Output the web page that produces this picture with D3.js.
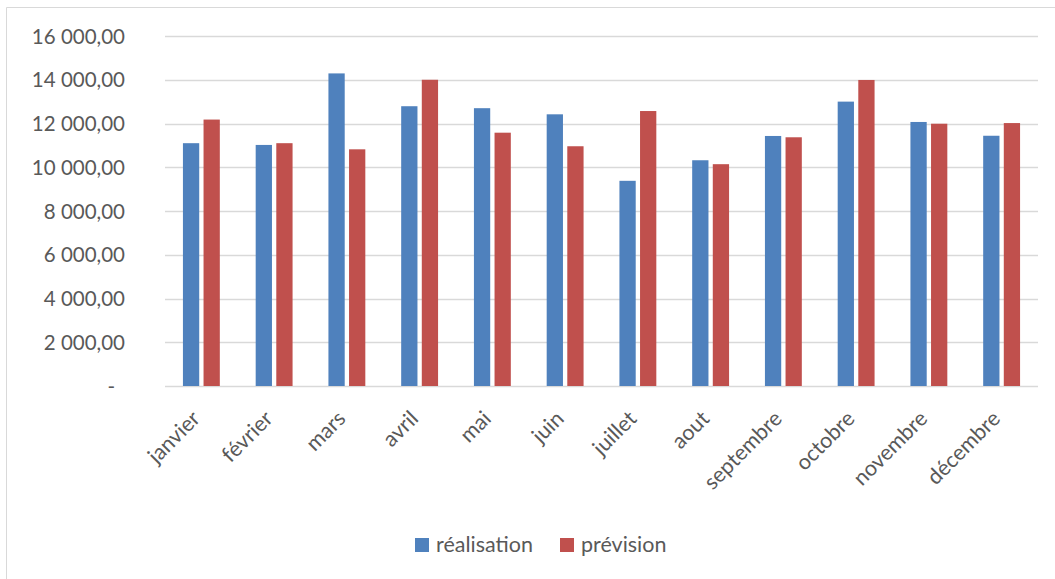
<!DOCTYPE html>
<html>
<head>
<meta charset="utf-8">
<script src="https://cdn.jsdelivr.net/npm/d3@7"></script>
<style>
  html, body { margin: 0; padding: 0; background: #fff; }
  svg { display: block; }
  text { font-family: Lato, "Open Sans", sans-serif; fill: #595959; }
</style>
</head>
<body>
<svg id="chart" width="1055" height="579"></svg>
<script>
const months = ["janvier","février","mars","avril","mai","juin","juillet","aout","septembre","octobre","novembre","décembre"];
const seriesNames = ["réalisation","prévision"];
const realisation = [11100, 11020, 14290, 12790, 12700, 12420, 9380, 10320, 11430, 13000, 12070, 11440];
const prevision   = [12180, 11100, 10820, 14000, 11580, 10960, 12570, 10140, 11370, 13990, 11990, 12020];
const yTicks = [0, 2000, 4000, 6000, 8000, 10000, 12000, 14000, 16000];
const colors = ["#4F81BD", "#C0504D"];

const svg = d3.select("#chart");
const W = 1055, H = 579;
const plot = { left: 165, right: 1038, top: 36, bottom: 386 };

svg.append("path")
  .attr("d", `M6.5,${H} L6.5,7.5 L${W},7.5`)
  .attr("fill", "none").attr("stroke", "#d9d9d9").attr("stroke-width", 1);

const y = d3.scaleLinear().domain([0, 16000]).range([plot.bottom, plot.top]);
const x0 = d3.scaleBand().domain(months).range([plot.left, plot.right]).paddingInner(0).paddingOuter(0);
const groupW = x0.bandwidth() * 0.507;
const x1 = d3.scaleBand().domain(seriesNames).range([0, groupW]).paddingInner(0.21).paddingOuter(0);

const fmt = v => {
  if (v === 0) return "-";
  const s = d3.format(",.2f")(v);
  return s.replace(/,/g, " ").replace(".", ",");
};

svg.append("g").selectAll("line").data(yTicks).join("line")
  .attr("x1", plot.left).attr("x2", plot.right)
  .attr("y1", d => Math.round(y(d)) + 0.5).attr("y2", d => Math.round(y(d)) + 0.5)
  .attr("stroke", "#d9d9d9").attr("stroke-width", 1.3);

const yAxis = d3.axisLeft(y).tickValues(yTicks).tickFormat(fmt).tickSize(0).tickPadding(0);
const gy = svg.append("g").attr("transform", `translate(125,0)`).call(yAxis);
gy.select(".domain").remove();
gy.selectAll("text")
  .attr("font-size", "20.5px")
  .attr("fill", "#595959")
  .style("font-family", "Lato, 'Open Sans', sans-serif")
  .attr("dy", "0.35em")
  .attr("x", d => d === 0 ? -10 : 0);

const data = months.map((m, i) => ({ month: m, values: [realisation[i], prevision[i]] }));
const groups = svg.append("g").selectAll("g").data(data).join("g")
  .attr("transform", d => `translate(${x0(d.month) + (x0.bandwidth() - groupW) / 2},0)`);
groups.selectAll("rect").data(d => d.values.map((v, j) => ({ key: seriesNames[j], v, j })))
  .join("rect")
  .attr("x", d => x1(d.key))
  .attr("width", x1.bandwidth())
  .attr("y", d => y(d.v))
  .attr("height", d => y(0) - y(d.v))
  .attr("fill", d => colors[d.j]);

const xAxis = d3.axisBottom(x0).tickSize(0).tickPadding(0);
const gx = svg.append("g").attr("transform", `translate(0,${plot.bottom})`).call(xAxis);
gx.select(".domain").remove();
gx.selectAll("text")
  .attr("font-size", "21.5px")
  .attr("fill", "#595959")
  .style("font-family", "Lato, 'Open Sans', sans-serif")
  .attr("text-anchor", "end")
  .attr("dy", null)
  .attr("y", 0)
  .attr("transform", "translate(0,34) rotate(-45)");

const legend = svg.append("g");
const legendItems = [
  { name: seriesNames[0], color: colors[0], x: 415 },
  { name: seriesNames[1], color: colors[1], x: 560 }
];
legendItems.forEach(it => {
  legend.append("rect").attr("x", it.x).attr("y", 538).attr("width", 14).attr("height", 14).attr("fill", it.color);
  legend.append("text").attr("x", it.x + 21).attr("y", 552).attr("font-size", "21.5px").text(it.name);
});
</script>
</body>
</html>
